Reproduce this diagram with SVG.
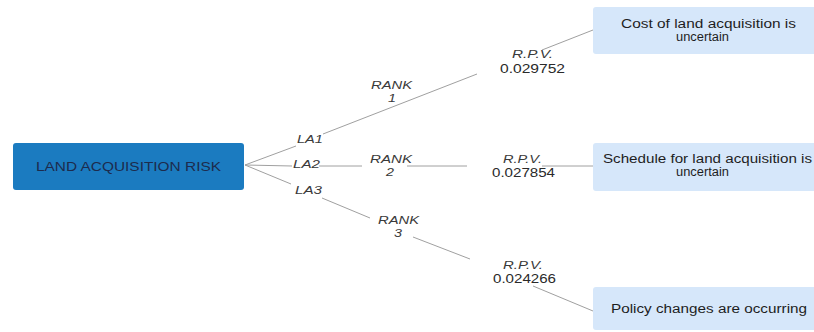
<svg xmlns="http://www.w3.org/2000/svg" width="814" height="332" viewBox="0 0 814 332">
<style>
text{font-family:"Liberation Sans",Arial,sans-serif;}
.lbl{font-size:11px;font-style:italic;fill:#3a3a3a;}
.num{font-size:12px;fill:#2a2a2a;}
.leaf{fill:#d6e7fa;}
.leaf-t{font-size:12px;fill:#1e1e1e;}
.conn line{stroke:#a0a0a0;stroke-width:1;}
</style>
<rect width="814" height="332" fill="#ffffff"/>
<g id="connectors" class="conn">
<line x1="245" y1="165" x2="296" y2="146"/>
<line x1="323" y1="134" x2="477" y2="74"/>
<line x1="542" y1="50" x2="593" y2="30"/>
<line x1="245" y1="165" x2="292" y2="166"/>
<line x1="319" y1="166" x2="362" y2="166"/>
<line x1="407" y1="166" x2="467" y2="166"/>
<line x1="542" y1="166" x2="593" y2="166"/>
<line x1="245" y1="165" x2="291" y2="184"/>
<line x1="322" y1="198" x2="370" y2="218"/>
<line x1="413" y1="237" x2="470" y2="259"/>
<line x1="533" y1="286" x2="593" y2="311"/>
</g>
<g id="labels">
<text class="lbl" x="297" y="143" textLength="26" lengthAdjust="spacingAndGlyphs">LA1</text>
<text class="lbl" x="293" y="168" textLength="27" lengthAdjust="spacingAndGlyphs">LA2</text>
<text class="lbl" x="295" y="194" textLength="27" lengthAdjust="spacingAndGlyphs">LA3</text>
<text class="lbl" x="371" y="89" textLength="41" lengthAdjust="spacingAndGlyphs">RANK</text>
<text class="lbl" x="388" y="102" textLength="8" lengthAdjust="spacingAndGlyphs">1</text>
<text class="lbl" x="370" y="162.5" textLength="42" lengthAdjust="spacingAndGlyphs">RANK</text>
<text class="lbl" x="386" y="175.5" textLength="8" lengthAdjust="spacingAndGlyphs">2</text>
<text class="lbl" x="378" y="223.5" textLength="41" lengthAdjust="spacingAndGlyphs">RANK</text>
<text class="lbl" x="394" y="236.5" textLength="8" lengthAdjust="spacingAndGlyphs">3</text>
<text class="lbl" x="512" y="58" textLength="41" lengthAdjust="spacingAndGlyphs">R.P.V.</text>
<text class="num" x="500" y="72.5" textLength="65" lengthAdjust="spacingAndGlyphs">0.029752</text>
<text class="lbl" x="503" y="162.5" textLength="39" lengthAdjust="spacingAndGlyphs">R.P.V.</text>
<text class="num" x="492" y="176.5" textLength="63" lengthAdjust="spacingAndGlyphs">0.027854</text>
<text class="lbl" x="503" y="269" textLength="40" lengthAdjust="spacingAndGlyphs">R.P.V.</text>
<text class="num" x="493" y="283" textLength="63" lengthAdjust="spacingAndGlyphs">0.024266</text>
</g>
<g id="root">
<rect x="13" y="143" width="231" height="47" rx="3" fill="#1b7bc0"/>
<text x="36" y="171" font-size="13" fill="#1d2b4d" textLength="185" lengthAdjust="spacingAndGlyphs">LAND ACQUISITION RISK</text>
</g>
<g id="leaf1">
<rect class="leaf" x="593" y="7" width="224" height="47" rx="3"/>
<text class="leaf-t" x="621" y="28" textLength="175" lengthAdjust="spacingAndGlyphs">Cost of land acquisition is</text>
<text class="leaf-t" x="676" y="41" textLength="53" lengthAdjust="spacingAndGlyphs">uncertain</text>
</g>
<g id="leaf2">
<rect class="leaf" x="593" y="143" width="224" height="48" rx="3"/>
<text class="leaf-t" x="603" y="162.5" textLength="209" lengthAdjust="spacingAndGlyphs">Schedule for land acquisition is</text>
<text class="leaf-t" x="676" y="175.5" textLength="53" lengthAdjust="spacingAndGlyphs">uncertain</text>
</g>
<g id="leaf3">
<rect class="leaf" x="593" y="287" width="224" height="43" rx="3"/>
<text class="leaf-t" x="611" y="313" textLength="196" lengthAdjust="spacingAndGlyphs">Policy changes are occurring</text>
</g>
</svg>
